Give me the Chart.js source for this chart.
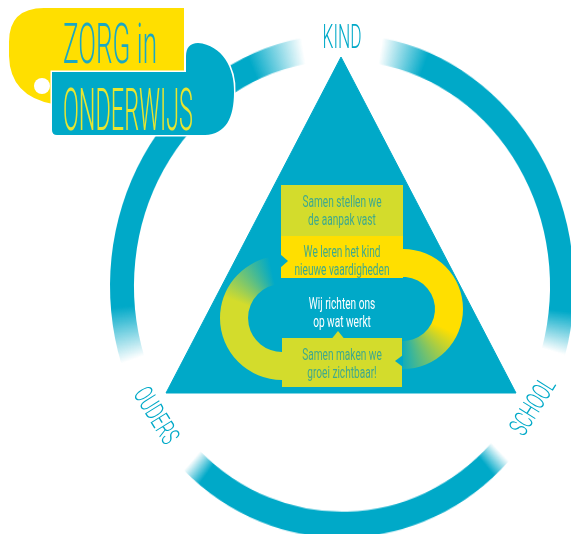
<!DOCTYPE html>
<html>
<head>
<meta charset="utf-8">
<script src="https://cdn.jsdelivr.net/npm/chart.js@4.4.1/dist/chart.umd.min.js"></script>
<style>
  html, body { margin: 0; padding: 0; background: #fff; overflow: hidden; width: 571px; height: 534px; }
  #ringWrap { position: absolute; left: 0; top: 0; width: 684px; height: 572px; transform: scaleY(1.085); transform-origin: 342px 286px; }
  #mainChart { position: absolute; left: 0; top: 0; }
</style>
</head>
<body>
<div id="ringWrap"><canvas id="ringChart" width="684" height="572"></canvas></div>
<canvas id="mainChart" width="571" height="534"></canvas>
<script>
// ring around the triangle: arcs and the gaps where the corner names sit (degrees)
const ringLabels = ['Kind - School', '', 'School - Ouders', '', 'Ouders - Kind', ''];
const ringSegments = [96, 28, 89, 29, 98, 20];
const ringStart = 10;

// triangle corners
const cornerLabels = ['KIND', 'SCHOOL', 'OUDERS'];
const cornerX = [341, 516, 166];
const cornerY = [57, 393, 393];

// the four steps inside the triangle
const stepLines = [
    ['Samen stellen we', 'de aanpak vast'],
    ['We leren het kind', 'nieuwe vaardigheden'],
    ['Wij richten ons', 'op wat werkt'],
    ['Samen maken we', 'groei zichtbaar!']
];
const titleLines = ['ZORG in', 'ONDERWIJS'];

// styles
const CYAN = '#00a9c8';
const YELLOW = '#ffdf00';
const LIME = '#d3dc2c';
const STEP_TEXT = '#3fa98c';
const ringFade = [[12, 10], [5, 5], [13, 14]];
const FONT = 'Roboto, "Liberation Sans Narrow", sans-serif';

function ringGradient(context) {
    const chart = context.chart;
    const area = chart.chartArea;
    if (!area) return CYAN;
    if (chart.$ringGrad) return chart.$ringGrad;
    const cx = (area.left + area.right) / 2;
    const cy = (area.top + area.bottom) / 2;
    const g = chart.ctx.createConicGradient(-Math.PI / 2, cx, cy);
    const clear = 'rgba(0,169,200,0)';
    let a = ringStart;
    g.addColorStop(0, clear);
    ringSegments.forEach((v, i) => {
        if (i % 2 === 0) {
            const f = ringFade[i / 2];
            g.addColorStop(a / 360, clear);
            g.addColorStop((a + f[0]) / 360, CYAN);
            g.addColorStop((a + v - f[1]) / 360, CYAN);
            g.addColorStop((a + v) / 360, clear);
        }
        a += v;
    });
    g.addColorStop(1, clear);
    chart.$ringGrad = g;
    return g;
}

new Chart(document.getElementById('ringChart'), {
    type: 'doughnut',
    data: {
        labels: ringLabels,
        datasets: [{
            data: ringSegments,
            backgroundColor: ctx => ctx.dataIndex % 2 ? 'rgba(0,0,0,0)' : ringGradient(ctx),
            borderWidth: 0,
            offset: 0,
            hoverOffset: 0
        }]
    },
    options: {
        responsive: false,
        animation: false,
        rotation: ringStart,
        radius: 232,
        cutout: '89.66%',
        layout: { padding: 0 },
        plugins: { legend: { display: false }, tooltip: { enabled: false } }
    }
});

// text drawn with a horizontal squeeze to get the narrow hand lettering look
function textLine(ctx, str, cx, cy, capH, squeeze, color, angle, weight) {
    const size = capH / 0.711;
    ctx.save();
    ctx.translate(cx, cy);
    ctx.rotate((angle || 0) * Math.PI / 180);
    ctx.scale(squeeze, 1);
    ctx.font = `${weight || 400} ${size}px ${FONT}`;
    ctx.fillStyle = color;
    ctx.textAlign = 'center';
    ctx.textBaseline = 'alphabetic';
    ctx.fillText(str, 0, capH / 2);
    ctx.restore();
}

function squeezeFor(ctx, str, capH, width, weight) {
    ctx.save();
    ctx.font = `${weight || 400} ${capH / 0.711}px ${FONT}`;
    const w = ctx.measureText(str).width;
    ctx.restore();
    return width / w;
}

function band(ctx, cx, cy, r0, r1, a0, a1, fill) {
    ctx.beginPath();
    ctx.arc(cx, cy, r1, a0, a1);
    ctx.arc(cx, cy, r0, a1, a0, true);
    ctx.closePath();
    ctx.fillStyle = fill;
    ctx.fill();
}

function tri(ctx, pts, color) {
    ctx.beginPath();
    ctx.moveTo(pts[0], pts[1]);
    ctx.lineTo(pts[2], pts[3]);
    ctx.lineTo(pts[4], pts[5]);
    ctx.closePath();
    ctx.fillStyle = color;
    ctx.fill();
}

const rad = d => d * Math.PI / 180;

const infographic = {
    id: 'infographic',
    afterDatasetsDraw(chart) {
        const { ctx, scales: { x, y } } = chart;
        const px = v => x.getPixelForValue(v);
        const py = v => y.getPixelForValue(v);
        const k = px(1) - px(0);

        // loop arrows behind the boxes
        const rcx = px(403), rcy = py(309);
        let g = ctx.createConicGradient(-Math.PI / 2, rcx, rcy);
        g.addColorStop(0, YELLOW);
        g.addColorStop(115 / 360, YELLOW);
        g.addColorStop(185 / 360, 'rgba(255,223,0,0)');
        g.addColorStop(1, 'rgba(255,223,0,0)');
        band(ctx, rcx, rcy, 32 * k, 60 * k, rad(-90), rad(95), g);

        const lcx = px(282), lcy = py(318);
        g = ctx.createConicGradient(-Math.PI / 2, lcx, lcy);
        g.addColorStop(0, LIME);
        g.addColorStop(290 / 360, LIME);
        g.addColorStop(348 / 360, 'rgba(211,220,44,0)');
        g.addColorStop(1, 'rgba(211,220,44,0)');
        band(ctx, lcx, lcy, 34 * k, 62 * k, rad(90), rad(258), g);

        // step boxes
        ctx.fillStyle = LIME;
        ctx.fillRect(px(281), py(185), px(403) - px(281), py(236) - py(185));
        ctx.fillStyle = YELLOW;
        ctx.fillRect(px(281), py(236), px(403) - px(281), py(278) - py(236));
        ctx.fillStyle = LIME;
        ctx.fillRect(px(282), py(338), px(402) - px(282), py(387) - py(338));
        tri(ctx, [px(332), py(338.5), px(338), py(331), px(344), py(338.5)], LIME);
        tri(ctx, [px(280), py(254), px(288), py(261), px(280), py(268)], CYAN);
        tri(ctx, [px(403), py(355), px(395), py(361), px(403), py(367)], CYAN);

        // step texts
        const sq = squeezeFor(ctx, stepLines[0][0], 11.5 * k, 79 * k, 400);
        const lineY = [[201, 219], [251, 269], [303, 321], [354, 372]];
        stepLines.forEach((lines, i) => {
            lines.forEach((str, j) => {
                textLine(ctx, str, px(342), py(lineY[i][j]), 11.5 * k, sq,
                    i === 2 ? '#ffffff' : STEP_TEXT, 0, 400);
            });
        });

        // corner names
        const kindSq = squeezeFor(ctx, cornerLabels[0], 23 * k, 39 * k, 300);
        textLine(ctx, cornerLabels[0], px(cornerX[0] + 1), py(cornerY[0] - 21), 23 * k, kindSq, CYAN, 0, 300);
        const sideSq = squeezeFor(ctx, cornerLabels[1], 19 * k, 62 * k, 300);
        textLine(ctx, cornerLabels[1], px(cornerX[1] + 16), py(cornerY[1] + 13), 19 * k, sideSq, CYAN, -58, 300);
        textLine(ctx, cornerLabels[2], px(cornerX[2] - 9), py(cornerY[2] + 22), 19 * k, sideSq, CYAN, 58, 300);

        // logo, top left
        ctx.save();
        ctx.fillStyle = YELLOW;
        ctx.beginPath();
        ctx.moveTo(px(44), py(8));
        ctx.lineTo(px(184), py(8));
        ctx.lineTo(px(184), py(74));
        ctx.lineTo(px(56), py(74));
        ctx.quadraticCurveTo(px(49), py(92), px(53), py(104));
        ctx.quadraticCurveTo(px(10), py(96), px(9), py(56));
        ctx.lineTo(px(9), py(42));
        ctx.quadraticCurveTo(px(9), py(8), px(44), py(8));
        ctx.closePath();
        ctx.fill();
        ctx.fillStyle = '#ffffff';
        ctx.beginPath();
        ctx.arc(px(42), py(86), 8 * k, 0, Math.PI * 2);
        ctx.fill();

        ctx.beginPath();
        ctx.moveTo(px(52), py(72));
        ctx.lineTo(px(186), py(72));
        ctx.lineTo(px(186), py(56));
        ctx.bezierCurveTo(px(186), py(48), px(190), py(43), px(198), py(43));
        ctx.bezierCurveTo(px(222), py(45), px(235), py(68), px(234), py(92));
        ctx.bezierCurveTo(px(234), py(118), px(226), py(134), px(205), py(135));
        ctx.lineTo(px(57), py(135));
        ctx.quadraticCurveTo(px(52), py(135), px(52), py(130));
        ctx.closePath();
        ctx.lineWidth = 3 * k;
        ctx.strokeStyle = '#ffffff';
        ctx.stroke();
        ctx.fillStyle = CYAN;
        ctx.fill();
        ctx.restore();

        const t1 = squeezeFor(ctx, titleLines[0], 40 * k, 94 * k, 300);
        textLine(ctx, titleLines[0], px(110), py(43), 40 * k, t1, '#19a8c4', 0, 300);
        const t2 = squeezeFor(ctx, titleLines[1], 42 * k, 130 * k, 300);
        textLine(ctx, titleLines[1], px(128), py(109), 42 * k, t2, '#e9e62e', 0, 300);
    }
};

new Chart(document.getElementById('mainChart'), {
    type: 'scatter',
    data: {
        datasets: [{
            label: 'driehoek',
            data: [0, 1, 2, 0].map(i => ({ x: cornerX[i], y: cornerY[i] })),
            showLine: true,
            fill: 'shape',
            backgroundColor: CYAN,
            borderColor: CYAN,
            borderWidth: 1,
            pointRadius: 0,
            tension: 0
        }]
    },
    options: {
        responsive: false,
        animation: false,
        layout: { padding: 0 },
        scales: {
            x: { type: 'linear', min: 0, max: 571, display: false },
            y: { type: 'linear', min: 0, max: 534, reverse: true, display: false }
        },
        plugins: { legend: { display: false }, tooltip: { enabled: false } }
    },
    plugins: [infographic]
});
</script>
</body>
</html>
